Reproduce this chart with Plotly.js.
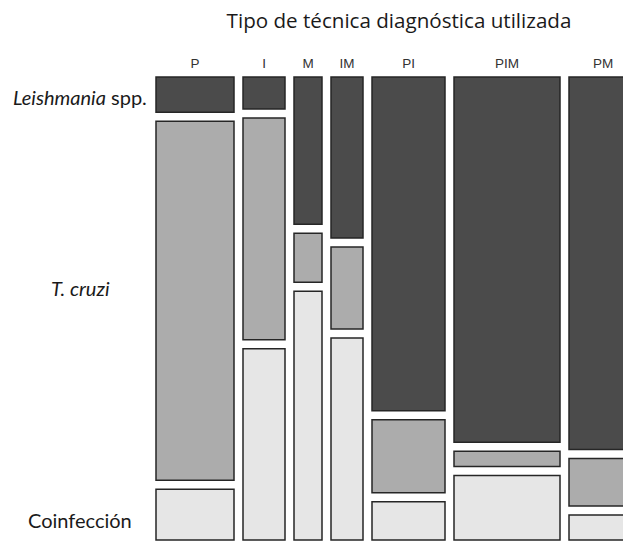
<!DOCTYPE html>
<html>
<head>
<meta charset="utf-8">
<script src="https://cdn.plot.ly/plotly-3.0.1.min.js"></script>
<style>html,body{margin:0;padding:0;background:#fff}#chart{width:623px;height:542px}</style>
</head>
<body>
<div id="chart"></div>
<script>
// Data
const categories = ['P', 'I', 'M', 'IM', 'PI', 'PIM', 'PM'];
const columnTotals = [39, 21, 14, 16, 36.5, 53, 34];          // relative column sizes
const rowLabels = ['Leishmania spp.', 'T. cruzi', 'Coinfección'];
const leishmaniaPct = [7.9, 7.2, 33.1, 36.2, 75.0, 82.1, 83.7];
const cruziPct      = [80.7, 49.8, 11.0, 18.4, 16.4, 3.4, 10.7];
const coinfPct      = [11.4, 43.0, 55.9, 45.4, 8.6, 14.5, 5.6];

// Layout constants (mosaic geometry)
const xScale = 2;       // units per count
const gap = 9;          // gap between tiles
const innerH = 445;     // total tile height excluding gaps
const fills = ['#4b4b4b', '#acacac', '#e6e6e6'];

// Column positions
const centers = [], widths = [];
let cx = 0;
columnTotals.forEach((n, i) => {
  const w = n * xScale;
  centers.push(cx + w / 2);
  widths.push(w);
  cx += w + gap;
});

const series = [leishmaniaPct, cruziPct, coinfPct];
const bases = [[], [], []], heights = [[], [], []];
categories.forEach((c, j) => {
  let top = 0;
  for (let r = 0; r < 3; r++) {
    const h = series[r][j] / 100 * innerH;
    bases[r].push(top);
    heights[r].push(h);
    top += h + gap;
  }
});

const traces = series.map((s, r) => ({
  type: 'bar',
  x: centers,
  y: heights[r],
  base: bases[r],
  width: widths,
  name: rowLabels[r],
  marker: { color: fills[r], line: { color: '#262626', width: 1.5 } },
  hoverinfo: 'skip',
  showlegend: false
}));

const totalH = innerH + 2 * gap;
const plotW = 623 - 155;
const labelX = (80 - 155) / plotW;   // centre of row labels, in paper units

const layout = {
  width: 623, height: 542,
  margin: { l: 155, r: 0, t: 76, b: 1, pad: 0 },
  paper_bgcolor: '#ffffff', plot_bgcolor: '#ffffff',
  barmode: 'overlay',
  title: {
    text: 'Tipo de técnica diagnóstica utilizada',
    font: { family: '"Open Sans", Lato, sans-serif', size: 20.6, color: '#1a1a1a' },
    xref: 'paper', x: (399 - 155) / plotW, xanchor: 'center',
    yref: 'container', y: 1 - 21 / 542, yanchor: 'middle'
  },
  xaxis: {
    side: 'top',
    range: [-1, 467],
    tickmode: 'array', tickvals: centers, ticktext: categories,
    ticks: '', showgrid: false, zeroline: false, showline: false,
    tickfont: { family: '"Liberation Sans", Arial, sans-serif', size: 13.5, color: '#333333' },
    ticklabelstandoff: 4
  },
  yaxis: {
    range: [totalH + 1, -1],
    showticklabels: false, ticks: '', showgrid: false, zeroline: false, showline: false
  },
  annotations: [
    { text: '<i>Leishmania</i> spp.', y: 20 },
    { text: '<i>T. cruzi</i>', y: 211 },
    { text: 'Coinfección', y: 443 }
  ].map(a => Object.assign({
    xref: 'paper', x: labelX, yref: 'y', xanchor: 'center', yanchor: 'middle', showarrow: false,
    font: { family: 'Lato, "Open Sans", sans-serif', size: 20, color: '#1a1a1a' }
  }, a))
};

Plotly.newPlot('chart', traces, layout, { staticPlot: true, displayModeBar: false });
</script>
</body>
</html>
